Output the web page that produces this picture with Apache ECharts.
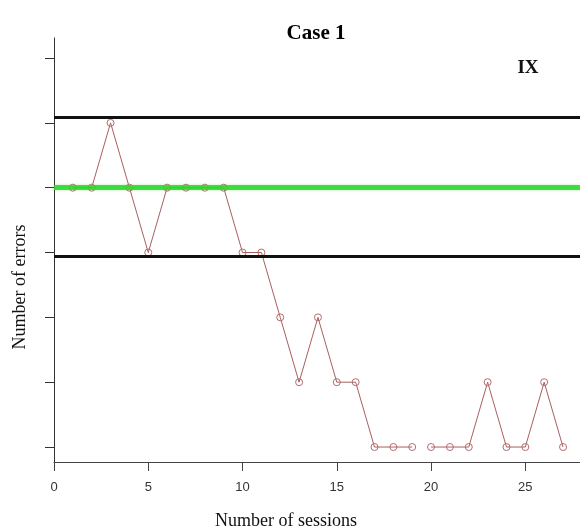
<!DOCTYPE html>
<html>
<head>
<meta charset="utf-8">
<script src="https://cdn.jsdelivr.net/npm/echarts@6/dist/echarts.min.js"></script>
<style>
  html, body { margin: 0; padding: 0; background: #fff; }
  #chart { width: 580px; height: 529px; }
</style>
</head>
<body>
<div id="chart"></div>
<script>
// Error counts per session; the trace is broken between session 19 and 20
const sessionsA = [1, 2, 3, 4, 5, 6, 7, 8, 9, 10, 11, 12, 13, 14, 15, 16, 17, 18, 19];
const errorsA   = [4, 4, 5, 4, 3, 4, 4, 4, 4, 3, 3, 2, 1, 2, 1, 1, 0, 0, 0];
const sessionsB = [20, 21, 22, 23, 24, 25, 26, 27];
const errorsB   = [0, 0, 0, 1, 0, 0, 1, 0];

// Reference levels
const meanLevel = [4];
const limitLevels = [5.08, 2.94];

// Axis tick values
const xTicks = [0, 5, 10, 15, 20, 25];
const yTicks = [0, 1, 2, 3, 4, 5, 6];

const serif = "'Liberation Serif', 'Times New Roman', serif";
const sans = "'Liberation Sans', Arial, sans-serif";
const traceColor = '#a8605f';

const pairs = (xs, ys) => xs.map((x, i) => [x, ys[i]]);

const traceStyle = {
  type: 'line',
  symbol: 'circle',
  symbolSize: 7,
  showSymbol: true,
  lineStyle: { color: traceColor, width: 1 },
  itemStyle: { color: 'rgba(255,255,255,0)', borderColor: '#b86a6c', borderWidth: 1 },
  emphasis: { disabled: true },
  animation: false,
  z: 3
};

const chart = echarts.init(document.getElementById('chart'), null, { renderer: 'canvas' });
chart.setOption({
  backgroundColor: '#ffffff',
  animation: false,
  title: [
    {
      text: 'Case 1', left: 311, top: 18, textAlign: 'center',
      textStyle: { fontFamily: serif, fontWeight: 'bold', fontSize: 21, color: '#000' }
    },
    {
      text: 'IX', left: 523, top: 54, textAlign: 'center',
      textStyle: { fontFamily: serif, fontWeight: 'bold', fontSize: 19, color: '#111' }
    }
  ],
  grid: { left: 54, right: 0, top: 38, bottom: 67 },
  xAxis: {
    type: 'value',
    min: 0,
    max: 27.9,
    interval: 5,
    splitLine: { show: false },
    axisLine: { show: true, onZero: false, lineStyle: { color: '#444', width: 1 } },
    axisTick: { show: true, length: 9, lineStyle: { color: '#444', width: 1 } },
    axisLabel: {
      margin: 19,
      fontFamily: sans, fontSize: 13, color: '#333',
      showMaxLabel: false,
      formatter: v => (xTicks.indexOf(v) >= 0 ? String(v) : '')
    }
  },
  yAxis: {
    type: 'value',
    min: -0.231,
    max: 6.309,
    splitLine: { show: false },
    axisLine: { show: true, onZero: false, lineStyle: { color: '#333', width: 1 } },
    axisTick: { show: true, length: 9, customValues: yTicks, lineStyle: { color: '#333' } },
    axisLabel: { show: false }
  },
  graphic: [
    {
      type: 'text', x: 286, y: 521,
      style: {
        text: 'Number of sessions', font: '18px ' + serif,
        fill: '#111', align: 'center', verticalAlign: 'middle'
      }
    },
    {
      type: 'text', x: 20, y: 287, rotation: Math.PI / 2,
      style: {
        text: 'Number of errors', font: '18px ' + serif,
        fill: '#111', align: 'center', verticalAlign: 'middle'
      }
    }
  ],
  series: [
    Object.assign({ name: 'errorsA', data: pairs(sessionsA, errorsA) }, traceStyle),
    Object.assign({ name: 'errorsB', data: pairs(sessionsB, errorsB) }, traceStyle),
    {
      name: 'limits', type: 'line', data: [], z: 2,
      markLine: {
        silent: true, symbol: 'none', animation: false,
        label: { show: false },
        lineStyle: { color: '#111', width: 3, type: 'solid' },
        data: limitLevels.map(v => ({ yAxis: v }))
      }
    },
    {
      name: 'mean', type: 'line', data: [], z: 5,
      markLine: {
        silent: true, symbol: 'none', animation: false,
        label: { show: false },
        lineStyle: { color: 'rgba(40,215,40,0.85)', width: 5, type: 'solid',
                     shadowColor: 'rgba(60,220,60,0.5)', shadowBlur: 3 },
        data: meanLevel.map(v => ({ yAxis: v }))
      }
    }
  ]
});
</script>
</body>
</html>
